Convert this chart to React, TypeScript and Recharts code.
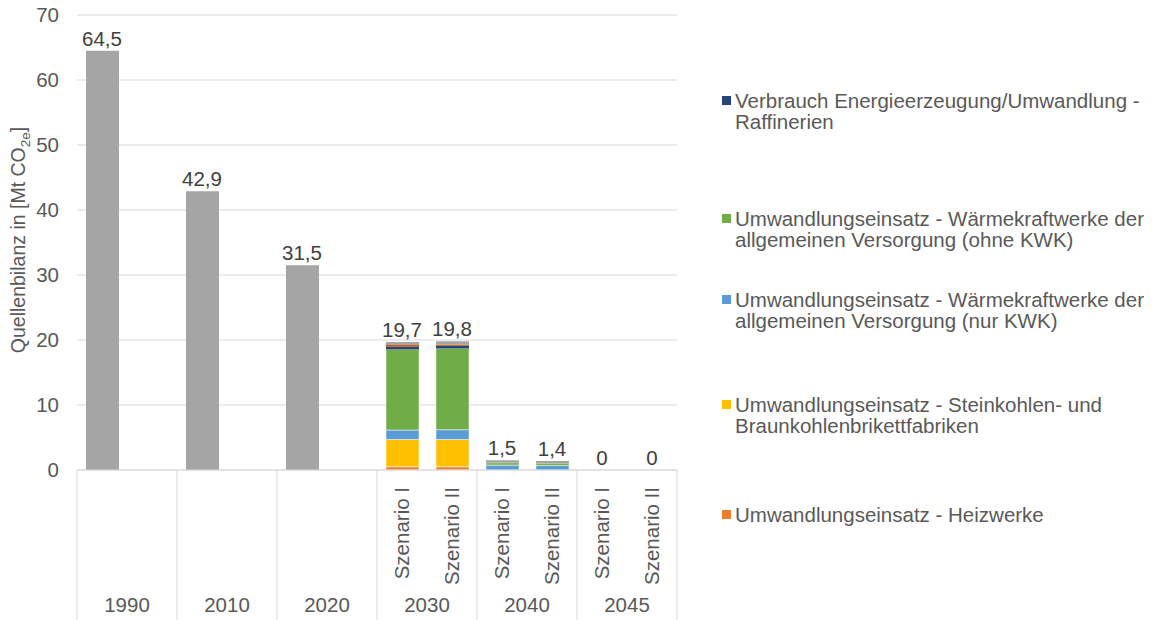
import React from 'react';
import { ComposedChart, Bar, Line, XAxis, YAxis, CartesianGrid, LabelList } from 'recharts';

const keys = ['1990a', '1990b', '2010a', '2010b', '2020a', '2020b', '2030a', '2030b', '2040a', '2040b', '2045a', '2045b'];
const yearLabels = ['1990', '', '2010', '', '2020', '', '2030', '', '2040', '', '2045', ''];
const subLabels = ['', '', '', '', '', '', 'Szenario I', 'Szenario II', 'Szenario I', 'Szenario II', 'Szenario I', 'Szenario II'];

const heizwerke = [null, null, null, null, null, null, 0.5, 0.5, 0, 0, 0, 0];
const brikett = [null, null, null, null, null, null, 4.2, 4.2, 0, 0, 0, 0];
const kwk = [null, null, null, null, null, null, 1.45, 1.5, 0.75, 0.7, 0, 0];
const ohneKwk = [null, null, null, null, null, null, 12.4, 12.5, 0.35, 0.35, 0, 0];
const raffinerien = [null, null, null, null, null, null, 0.4, 0.4, 0, 0, 0, 0];
const sonstigeUmw = [null, null, null, null, null, null, 0.3, 0.2, 0, 0, 0, 0];
const uebrige = [64.5, null, 42.9, null, 31.5, null, 0.45, 0.5, 0.4, 0.35, 0, 0];
const totals = [64.5, null, 42.9, null, 31.5, null, 19.7, 19.8, 1.5, 1.4, 0, 0];

const yTicks = [0, 10, 20, 30, 40, 50, 60, 70];

const legendItems = [
  { color: '#264478', lines: ['Verbrauch Energieerzeugung/Umwandlung -', 'Raffinerien'], top: 90 },
  { color: '#70AD47', lines: ['Umwandlungseinsatz - Wärmekraftwerke der', 'allgemeinen Versorgung (ohne KWK)'], top: 208 },
  { color: '#5B9BD5', lines: ['Umwandlungseinsatz - Wärmekraftwerke der', 'allgemeinen Versorgung (nur KWK)'], top: 289 },
  { color: '#FFC000', lines: ['Umwandlungseinsatz - Steinkohlen- und', 'Braunkohlenbrikettfabriken'], top: 394 },
  { color: '#ED7D31', lines: ['Umwandlungseinsatz - Heizwerke'], top: 504 },
];

const data = keys.map((k, i) => ({
  key: k,
  heizwerke: heizwerke[i],
  brikett: brikett[i],
  kwk: kwk[i],
  ohneKwk: ohneKwk[i],
  raffinerien: raffinerien[i],
  sonstigeUmw: sonstigeUmw[i],
  uebrige: uebrige[i],
  total: totals[i],
}));

const W = 1152;
const H = 620;
const M = { top: 15, right: 475, left: 0, bottom: 0 };
const Y_AXIS_W = 77;
const INNER_H = 120;
const YEAR_H = 30;
const BAND = (W - M.left - M.right - Y_AXIS_W) / keys.length;

const FONT = '"Liberation Sans", Arial, sans-serif';
const TXT = '#595959';
const GRID = '#D9D9D9';
const FS = 20.5;

const fmt = (v: number) => String(v).replace('.', ',');

const YTick = (props: any) => {
  const { x, y, payload } = props;
  return (
    <text x={x} y={y} dy="0.35em" textAnchor="end" fontSize={FS} fontFamily={FONT} fill={TXT}>
      {payload.value}
    </text>
  );
};

const SubTick = (props: any) => {
  const { x, y, index } = props;
  const label = subLabels[index];
  if (!label) return null;
  return (
    <g transform={`translate(${x},${y + 17}) rotate(-90)`}>
      <text x={0} y={0} dy="0.35em" textAnchor="end" fontSize={FS} fontFamily={FONT} fill={TXT}>
        {label}
      </text>
    </g>
  );
};

const YearTick = (props: any) => {
  const { x, y, index } = props;
  const label = yearLabels[index];
  const lines: React.ReactNode[] = [];
  if (index % 2 === 0) {
    lines.push(
      <line key="l" x1={x - BAND / 2} x2={x - BAND / 2} y1={y - INNER_H} y2={y + YEAR_H} stroke={GRID} strokeWidth={1} />
    );
  }
  if (index === keys.length - 1) {
    lines.push(
      <line key="r" x1={x + BAND / 2} x2={x + BAND / 2} y1={y - INNER_H} y2={y + YEAR_H} stroke={GRID} strokeWidth={1} />
    );
  }
  return (
    <g>
      {lines}
      {label ? (
        <text x={x + BAND / 2} y={y + 15} dy="0.35em" textAnchor="middle" fontSize={FS} fontFamily={FONT} fill={TXT}>
          {label}
        </text>
      ) : null}
    </g>
  );
};

const TotalLabel = (props: any) => {
  const { x, y, value } = props;
  if (value === null || value === undefined || x === undefined || y === undefined) return null;
  return (
    <text x={x} y={y - 5} textAnchor="middle" fontSize={FS} fontFamily={FONT} fill="#404040">
      {fmt(value)}
    </text>
  );
};

const YLabel = () => (
  <text
    transform="translate(18,240) rotate(-90)"
    textAnchor="middle"
    dy="0.35em"
    fontSize={19.5}
    fontFamily={FONT}
    fill={TXT}
  >
    Quellenbilanz in [Mt CO
    <tspan fontSize={13.5} dy="5">2e</tspan>
    <tspan dy="-5">]</tspan>
  </text>
);

export default function App() {
  return (
    <div style={{ position: 'absolute', left: 0, top: 0, width: W, height: H, background: '#fff' }}>
      <ComposedChart width={W} height={H} data={data} margin={M} barSize={33}>
        <CartesianGrid vertical={false} stroke={GRID} />
        <XAxis
          dataKey="key"
          xAxisId={0}
          height={INNER_H}
          tick={<SubTick />}
          tickLine={false}
          tickSize={0}
          tickMargin={0}
          axisLine={{ stroke: GRID }}
          interval={0}
        />
        <XAxis
          dataKey="key"
          xAxisId="year"
          height={YEAR_H}
          tick={<YearTick />}
          tickLine={false}
          tickSize={0}
          tickMargin={0}
          axisLine={false}
          interval={0}
        />
        <YAxis
          width={Y_AXIS_W}
          domain={[0, 70]}
          ticks={yTicks}
          tick={<YTick />}
          tickLine={false}
          tickSize={0}
          tickMargin={18}
          axisLine={false}
          label={{ content: <YLabel /> }}
        />
        <Bar dataKey="heizwerke" stackId="s" fill="#ED7D31" stroke="#fff" strokeWidth={0.5} isAnimationActive={false} />
        <Bar dataKey="brikett" stackId="s" fill="#FFC000" stroke="#fff" strokeWidth={0.5} isAnimationActive={false} />
        <Bar dataKey="kwk" stackId="s" fill="#5B9BD5" stroke="#fff" strokeWidth={0.5} isAnimationActive={false} />
        <Bar dataKey="ohneKwk" stackId="s" fill="#70AD47" stroke="#fff" strokeWidth={0.5} isAnimationActive={false} />
        <Bar dataKey="raffinerien" stackId="s" fill="#264478" isAnimationActive={false} />
        <Bar dataKey="sonstigeUmw" stackId="s" fill="#C55A11" isAnimationActive={false} />
        <Bar dataKey="uebrige" stackId="s" fill="#A5A5A5" isAnimationActive={false} />
        <Line
          dataKey="total"
          stroke="none"
          dot={false}
          activeDot={false}
          legendType="none"
          isAnimationActive={false}
        >
          <LabelList dataKey="total" content={<TotalLabel />} />
        </Line>
      </ComposedChart>
      {legendItems.map((it, i) => (
        <div
          key={i}
          style={{
            position: 'absolute',
            left: 722,
            top: it.top,
            fontFamily: FONT,
            fontSize: FS,
            lineHeight: '21px',
            color: TXT,
            whiteSpace: 'nowrap',
          }}
        >
          <span
            style={{
              position: 'absolute',
              left: 0,
              top: 6,
              width: 9,
              height: 9,
              background: it.color,
            }}
          />
          <div style={{ marginLeft: 13 }}>
            {it.lines.map((l, j) => (
              <div key={j}>{l}</div>
            ))}
          </div>
        </div>
      ))}
    </div>
  );
}
